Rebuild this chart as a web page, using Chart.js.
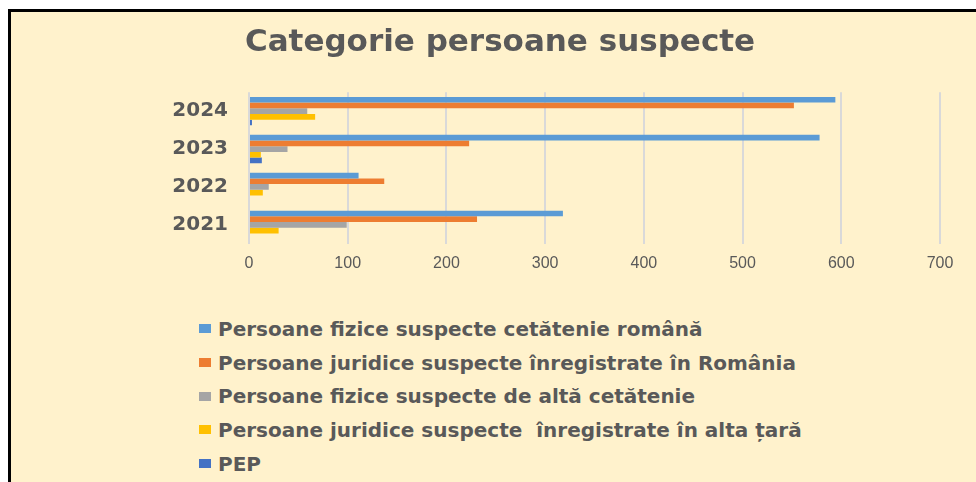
<!DOCTYPE html>
<html>
<head>
<meta charset="utf-8">
<script src="https://cdn.jsdelivr.net/npm/chart.js@4.4.1/dist/chart.umd.min.js"></script>
<style>
    html, body { margin: 0; padding: 0; background: #ffffff; width: 976px; height: 482px; overflow: hidden; }
    .frame {
        position: absolute; left: 8px; top: 9px; width: 990px; height: 500px;
        background: #FFF2CC; border-left: 3px solid #000; border-top: 3px solid #000;
    }
    #chartBox { position: absolute; left: 0; top: 0; width: 976px; height: 283px; }
    #legend { position: absolute; left: 199px; top: 312px; }
    .item { height: 33.7px; display: flex; align-items: center; white-space: pre;
        font-family: 'DejaVu Sans', sans-serif; font-weight: bold; font-size: 20px; color: #595959; }
    .box { width: 12px; height: 9px; margin-right: 7px; flex: none; }
</style>
</head>
<body>
<div class="frame"></div>
<div id="chartBox"><canvas id="suspectChart"></canvas></div>
<div id="legend"></div>
<script>
    // Data
    const years = ['2024', '2023', '2022', '2021'];
    const fiziceRomana = [594, 578, 111, 318];
    const juridiceRomania = [552, 223, 137, 231];
    const fiziceAlta = [59, 39, 20, 99];
    const juridiceAlta = [67, 12, 14, 30];
    const pep = [3, 13, 0, 0];
    const xTicks = [0, 100, 200, 300, 400, 500, 600, 700];

    const seriesNames = [
        'Persoane fizice suspecte cetătenie română',
        'Persoane juridice suspecte înregistrate în România',
        'Persoane fizice suspecte de altă cetătenie',
        'Persoane juridice suspecte  înregistrate în alta țară',
        'PEP'
    ];
    const seriesColors = ['#5B9BD5', '#ED7D31', '#A5A5A5', '#FFC000', '#4472C4'];
    const seriesData = [fiziceRomana, juridiceRomania, fiziceAlta, juridiceAlta, pep];

    const ctx = document.getElementById('suspectChart').getContext('2d');
    const suspectChart = new Chart(ctx, {
        type: 'bar',
        data: {
            labels: years,
            datasets: seriesNames.map((name, i) => ({
                label: name,
                data: seriesData[i],
                backgroundColor: seriesColors[i],
                borderWidth: 0,
                barPercentage: 1,
                categoryPercentage: 0.75
            }))
        },
        options: {
            indexAxis: 'y',
            responsive: true,
            maintainAspectRatio: false,
            animation: false,
            layout: { padding: { left: 60, right: 36, top: 10, bottom: 0 } },
            plugins: {
                legend: { display: false },
                tooltip: { enabled: false },
                title: {
                    display: true,
                    text: 'Categorie persoane suspecte',
                    color: '#595959',
                    font: { family: 'DejaVu Sans', size: 31, weight: 'bold' },
                    padding: { top: 14, bottom: 31 }
                }
            },
            scales: {
                x: {
                    min: 0,
                    max: 700,
                    afterBuildTicks: (scale) => { scale.ticks = xTicks.map(v => ({ value: v })); },
                    grid: { color: '#D9D9D9', lineWidth: 2, drawTicks: false },
                    border: { display: false },
                    ticks: {
                        color: '#595959',
                        padding: 10,
                        font: { family: 'Liberation Sans', size: 16 }
                    }
                },
                y: {
                    afterFit: (scale) => { scale.width = 189; },
                    grid: { display: false, drawTicks: false },
                    border: { display: false },
                    ticks: {
                        color: '#595959',
                        padding: 21,
                        font: { family: 'DejaVu Sans', size: 20, weight: 'bold' }
                    }
                }
            }
        }
    });

    // Legend as a vertical list below the chart
    const legendEl = document.getElementById('legend');
    suspectChart.data.datasets.forEach(ds => {
        const row = document.createElement('div');
        row.className = 'item';
        const box = document.createElement('span');
        box.className = 'box';
        box.style.background = ds.backgroundColor;
        const txt = document.createElement('span');
        txt.textContent = ds.label;
        row.appendChild(box);
        row.appendChild(txt);
        legendEl.appendChild(row);
    });
</script>
</body>
</html>
